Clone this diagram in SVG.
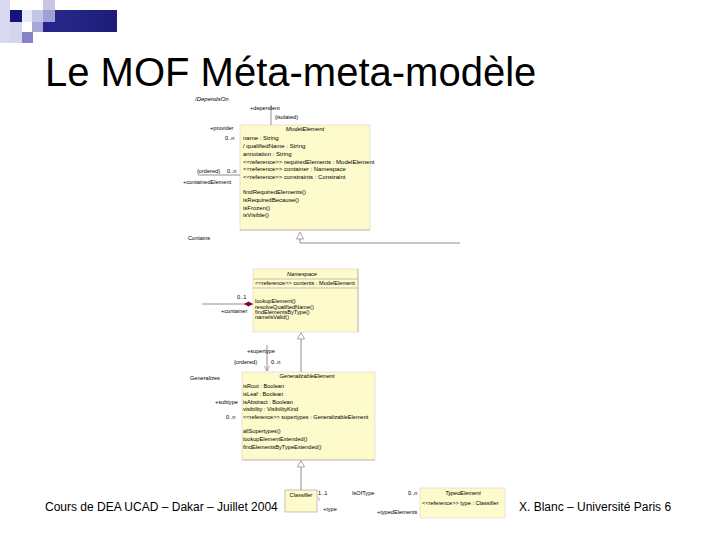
<svg xmlns="http://www.w3.org/2000/svg" width="720" height="540" viewBox="0 0 720 540">
<style>
text{font-family:"Liberation Sans",Arial,sans-serif;fill:#000}
.t{font-size:6px}
.s{font-size:5.6px}
.i{font-style:italic}
.box{fill:#fdfacc;stroke:#d8c8c0;stroke-width:0.5}
.ln{stroke:#a08898;stroke-width:1;fill:none}
.sep{stroke:#b8a0a8;stroke-width:0.7}
.tri{fill:#fff;stroke:#a08898;stroke-width:0.8}
</style>
<defs>
<linearGradient id="bar" x1="0" y1="0" x2="1" y2="0">
<stop offset="0" stop-color="#28288a"/>
<stop offset="1" stop-color="#1c1c78"/>
</linearGradient>
<marker id="nav" markerWidth="6" markerHeight="6" refX="5" refY="3" orient="auto" markerUnits="userSpaceOnUse">
<path d="M0,0.5 L5,3 L0,5.5" fill="none" stroke="#a08898" stroke-width="0.8"/>
</marker>
</defs>
<rect width="720" height="540" fill="#fff"/>
<g id="logo">
<rect x="0" y="0" width="10" height="43" fill="#d8d8f0"/>
<rect x="10" y="22" width="12" height="21" fill="#d4d4ee"/>
<rect x="10" y="10" width="12" height="12" fill="#14147a"/>
<rect x="22" y="10" width="10" height="12" fill="#e8e8f6"/>
<rect x="32" y="10" width="11" height="12" fill="#c4c4e6"/>
<rect x="43" y="0" width="12" height="10" fill="#c8c8e6"/>
<rect x="43" y="10" width="12" height="12" fill="#a0a0d4"/>
<rect x="32" y="22" width="11" height="10" fill="#a8a8d8"/>
<rect x="22" y="32" width="11" height="11" fill="#8484c4"/>
<rect x="43" y="22" width="12" height="10" fill="#24248a"/>
<rect x="55" y="10" width="62" height="22" fill="url(#bar)"/>
</g>
<text x="45" y="86" font-size="40">Le MOF Méta-meta-modèle</text>
<g id="ModelElement">
<rect class="box" x="240" y="125" width="130" height="105"/>
<line class="sep" x1="240" y1="230" x2="370" y2="230"/>
<text class="t i" x="305" y="131" text-anchor="middle">ModelElement</text>
<text class="t" x="243" y="140">name : String</text>
<text class="t" x="243" y="148">/ qualifiedName : String</text>
<text class="t" x="243" y="156">annotation : String</text>
<text class="t" x="243" y="164">&lt;&lt;reference&gt;&gt; requiredElements : ModelElement</text>
<text class="t" x="243" y="171">&lt;&lt;reference&gt;&gt; container : Namespace</text>
<text class="t" x="243" y="179">&lt;&lt;reference&gt;&gt; constraints : Constraint</text>
<text class="t" x="243" y="194">findRequiredElements()</text>
<text class="t" x="243" y="202">isRequiredBecause()</text>
<text class="t" x="243" y="210">isFrozen()</text>
<text class="t" x="243" y="217">isVisible()</text>
</g>
<g id="Namespace">
<rect class="box" x="253" y="269" width="105" height="63"/>
<line class="sep" x1="253" y1="279" x2="358" y2="279"/>
<line class="sep" x1="253" y1="288" x2="358" y2="288"/>
<line class="sep" x1="358" y1="269" x2="358" y2="332"/>
<text class="s i" x="302" y="276" text-anchor="middle">Namespace</text>
<text class="s" x="255" y="285">&lt;&lt;reference&gt;&gt; contents : ModelElement</text>
<text class="s" x="255" y="303">lookupElement()</text>
<text class="s" x="255" y="309">resolveQualifiedName()</text>
<text class="s" x="255" y="314">findElementsByType()</text>
<text class="s" x="255" y="319">nameIsValid()</text>
</g>
<g id="GeneralizableElement">
<rect class="box" x="242" y="372" width="133" height="88"/>
<line class="sep" x1="242" y1="460" x2="375" y2="460"/>
<text class="s i" x="307" y="378" text-anchor="middle">GeneralizableElement</text>
<text class="s" x="243" y="388">isRoot : Boolean</text>
<text class="s" x="243" y="396">isLeaf : Boolean</text>
<text class="s" x="243" y="404">isAbstract : Boolean</text>
<text class="s" x="243" y="411">visibility : VisibilityKind</text>
<text class="s" x="243" y="419">&lt;&lt;reference&gt;&gt; supertypes : GeneralizableElement</text>
<text class="s" x="243" y="433">allSupertypes()</text>
<text class="s" x="243" y="441">lookupElementExtended()</text>
<text class="s" x="243" y="449">findElementsByTypeExtended()</text>
</g>
<g id="Classifier">
<rect x="285" y="490" width="32" height="22" fill="#fdfacc" stroke="#b8a0a8" stroke-width="0.7"/>
<text class="s i" x="301" y="497" text-anchor="middle">Classifier</text>
</g>
<g id="TypedElement">
<rect class="box" x="420" y="488" width="85" height="30" stroke="none"/>
<text class="s i" x="463" y="495" text-anchor="middle">TypedElement</text>
<text class="s" x="422" y="505">&lt;&lt;reference&gt;&gt; type : Classifier</text>
</g>
<g id="connectors">
<line class="ln" x1="271" y1="105" x2="271" y2="125"/>
<line class="ln" x1="198" y1="175" x2="240" y2="175"/>
<line class="ln" x1="202" y1="304" x2="253" y2="304"/>
<path d="M244,304 L248.5,301.5 L253,304 L248.5,306.5 Z" fill="#800040"/>
<polyline class="ln" points="300,239 300,243 460,243"/>
<path class="tri" d="M300,232 L303.5,239 L296.5,239 Z"/>
<line class="ln" x1="301" y1="339" x2="301" y2="372"/>
<path class="tri" d="M301,332.5 L304.5,339 L297.5,339 Z"/>
<line class="ln" x1="267" y1="345" x2="267" y2="371" marker-end="url(#nav)"/>
<line class="ln" x1="301" y1="467" x2="301" y2="490"/>
<path class="tri" d="M301,460.5 L304.5,467 L297.5,467 Z"/>
<line x1="318" y1="497" x2="320" y2="501" stroke="#a08898" stroke-width="0.7"/>
</g>
<g id="labels">
<text class="t i" x="195" y="101">/DependsOn</text>
<text class="s" x="250" y="110">+dependent</text>
<text class="s" x="275" y="119">{isolated}</text>
<text class="s" x="210" y="130">+provider</text>
<text class="s" x="225" y="140">0..n</text>
<text class="s" x="197" y="173">{ordered}</text>
<text class="s" x="227" y="173">0..n</text>
<text class="s" x="183" y="184">+containedElement</text>
<text class="s" x="188" y="240">Contains</text>
<text class="s" x="237" y="299">0..1</text>
<text class="s" x="221" y="313">+container</text>
<text class="s" x="247" y="353">+supertype</text>
<text class="s" x="234" y="364">{ordered}</text>
<text class="s" x="271" y="364">0..n</text>
<text class="s" x="190" y="380">Generalizes</text>
<text class="s" x="215" y="404">+subtype</text>
<text class="s" x="226" y="419">0..n</text>
<text class="s" x="318" y="495">1..1</text>
<text class="s" x="323" y="511">+type</text>
<text class="s" x="352" y="495">IsOfType</text>
<text class="s" x="408" y="495">0..n</text>
<text class="s" x="377" y="514">+typedElements</text>
</g>
<text x="45" y="511" font-size="12">Cours de DEA UCAD – Dakar – Juillet 2004</text>
<text x="519" y="511" font-size="12">X. Blanc – Université Paris 6</text>
</svg>
